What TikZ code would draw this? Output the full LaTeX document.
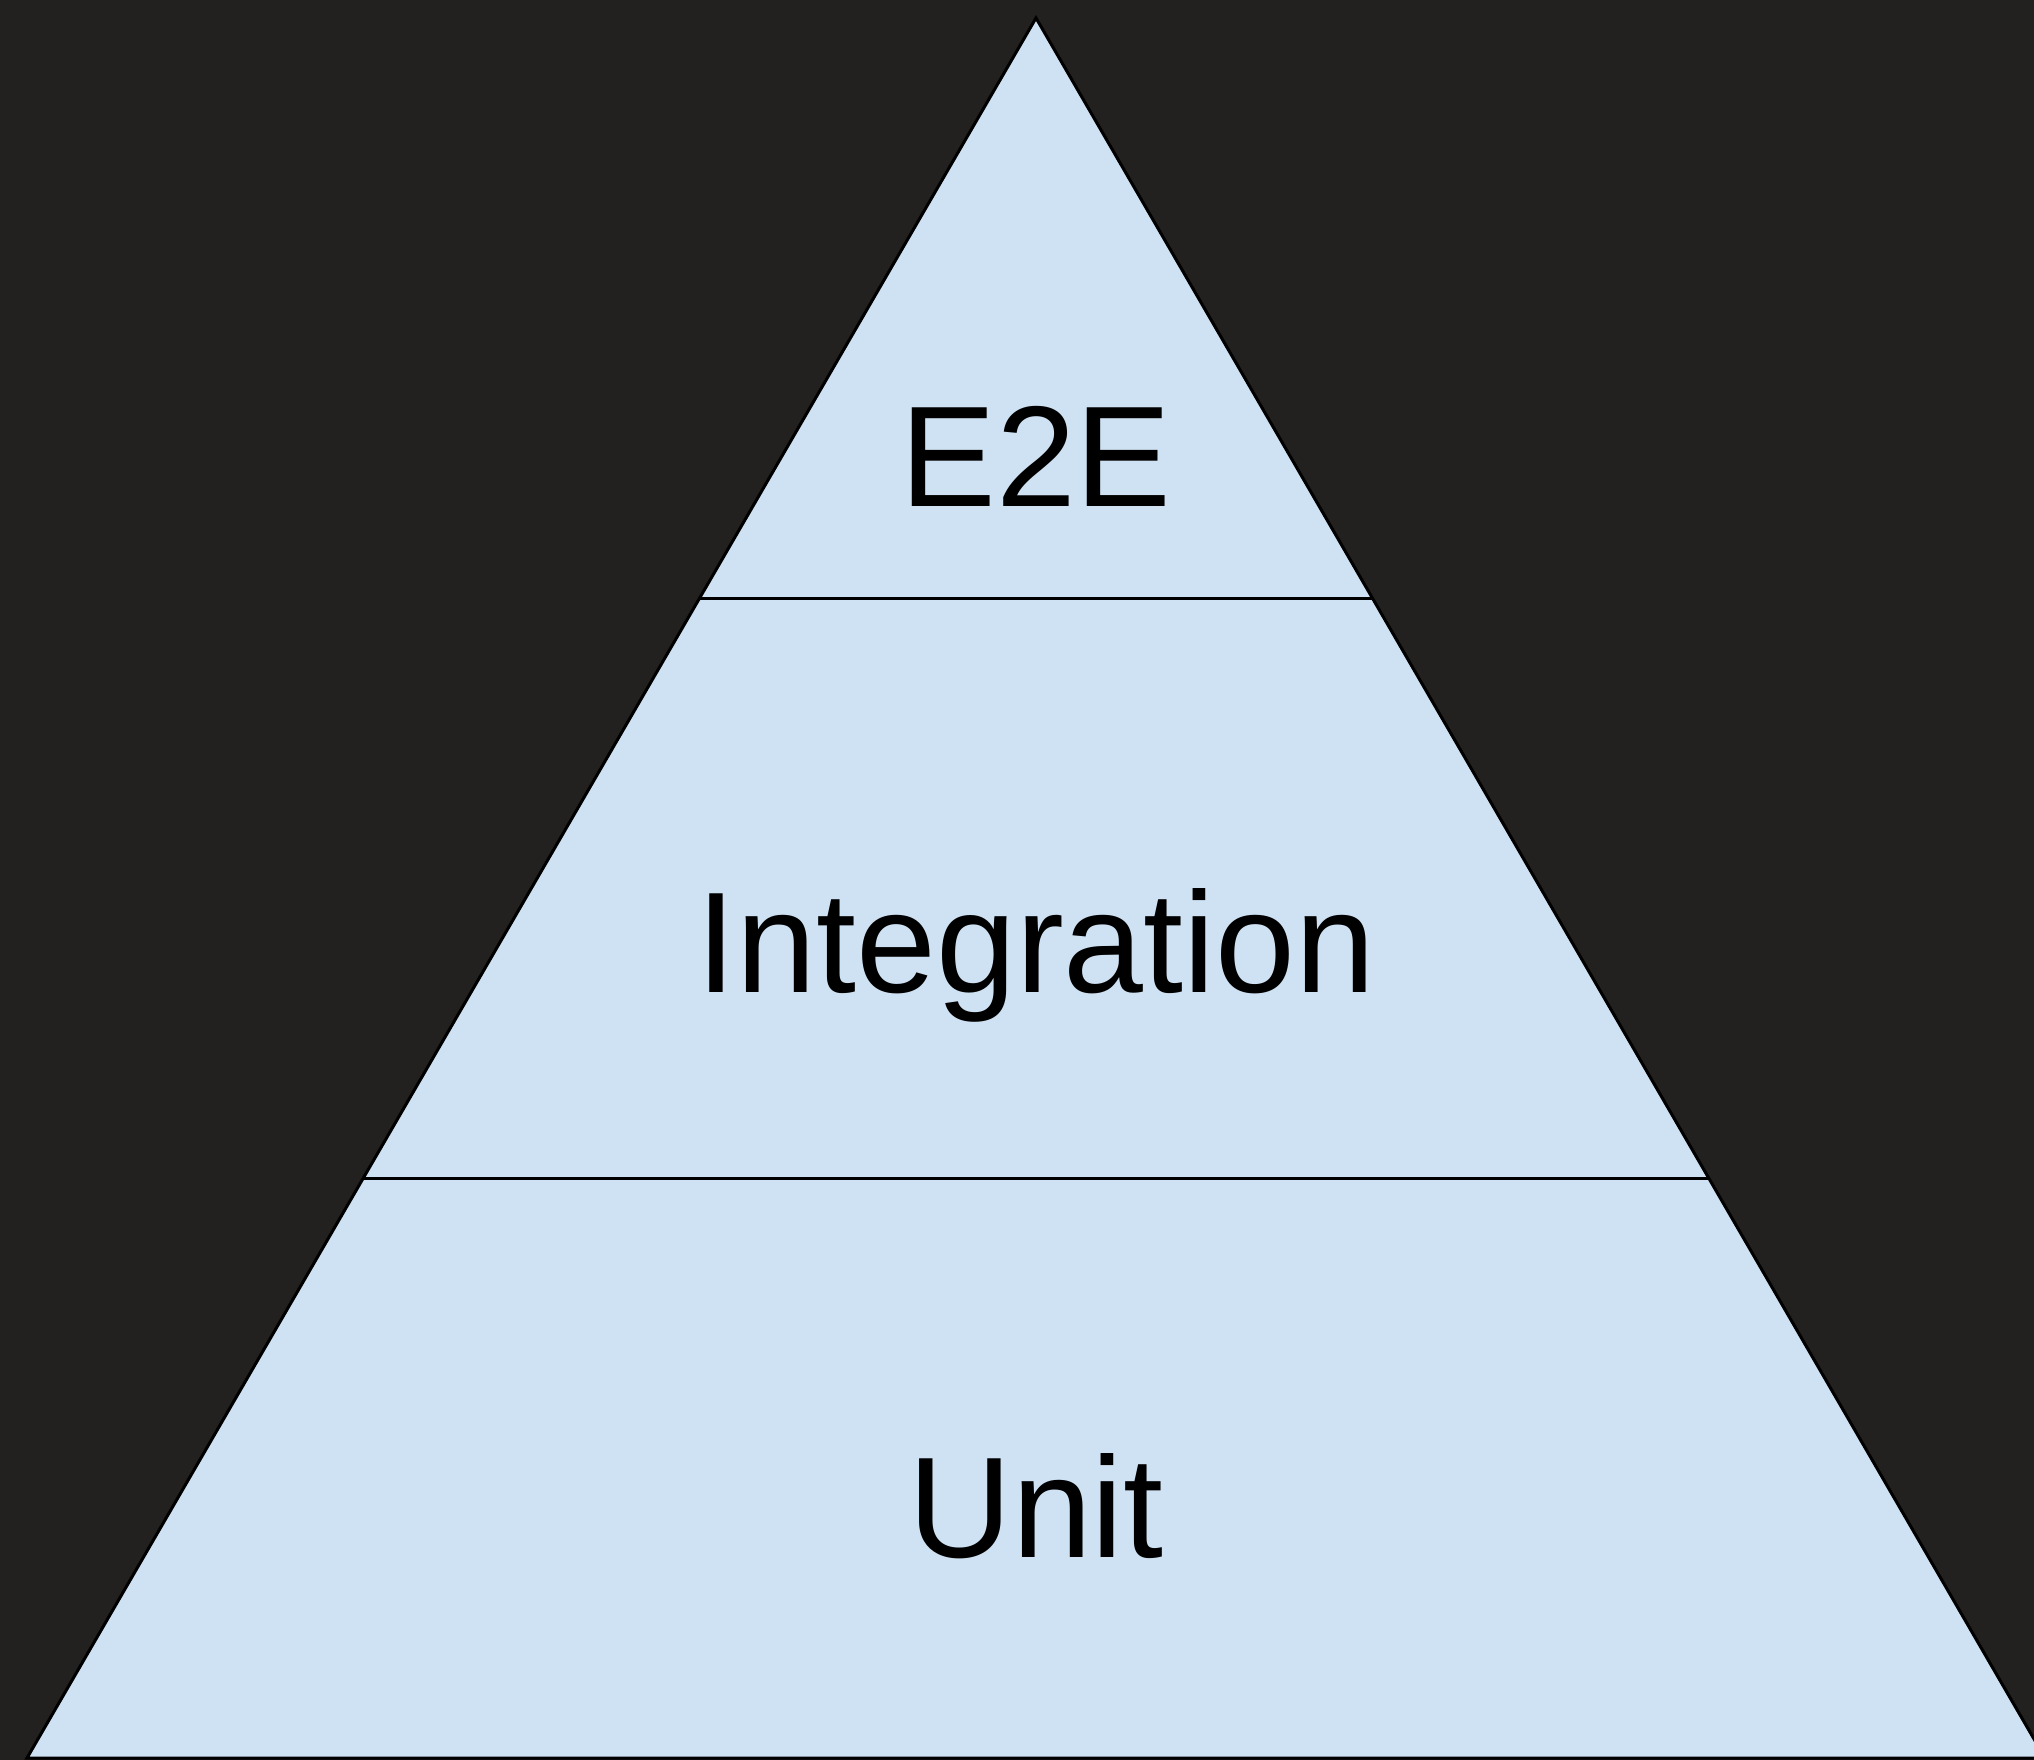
\documentclass[tikz,border=0pt]{standalone}
\usepackage{fontspec}
\setmainfont{Liberation Sans}
\definecolor{bg}{HTML}{222120}
\definecolor{tierfill}{HTML}{CFE2F3}
\tikzset{
  tier/.style={fill=tierfill, draw=black, line width=1.5pt, line join=miter},
  divider/.style={draw=black, line width=1.5pt},
  tierlabel/.style={anchor=base, inner sep=0pt, text=black, font=\fontsize{71.75}{80}\selectfont}
}
\begin{document}
\begin{tikzpicture}[x=0.5pt, y=-0.5pt]
  \useasboundingbox (0,0) rectangle (2034,1760);
  \fill[bg] (0,0) rectangle (2034,1760);
  \begin{scope}
    \clip (0,0) rectangle (2034,1760);
    \coordinate (apex) at (1036,18);
    \coordinate (bl) at (27,1758);
    \coordinate (br) at (2045,1758);
    \coordinate (l1) at (700,598);
    \coordinate (r1) at (1372,598);
    \coordinate (l2) at (363,1178);
    \coordinate (r2) at (1709,1178);
    \path[tier] (apex) -- (br) -- (bl) -- cycle;
    \draw[divider] (l1) -- (r1);
    \draw[divider] (l2) -- (r2);
  \end{scope}
  \node[tierlabel] (e2e) at (1036,506) {E2E};
  \node[tierlabel] (integration) at (1036,992) {Integration};
  \node[tierlabel] (unit) at (1036,1557) {Unit};
\end{tikzpicture}
\end{document}
